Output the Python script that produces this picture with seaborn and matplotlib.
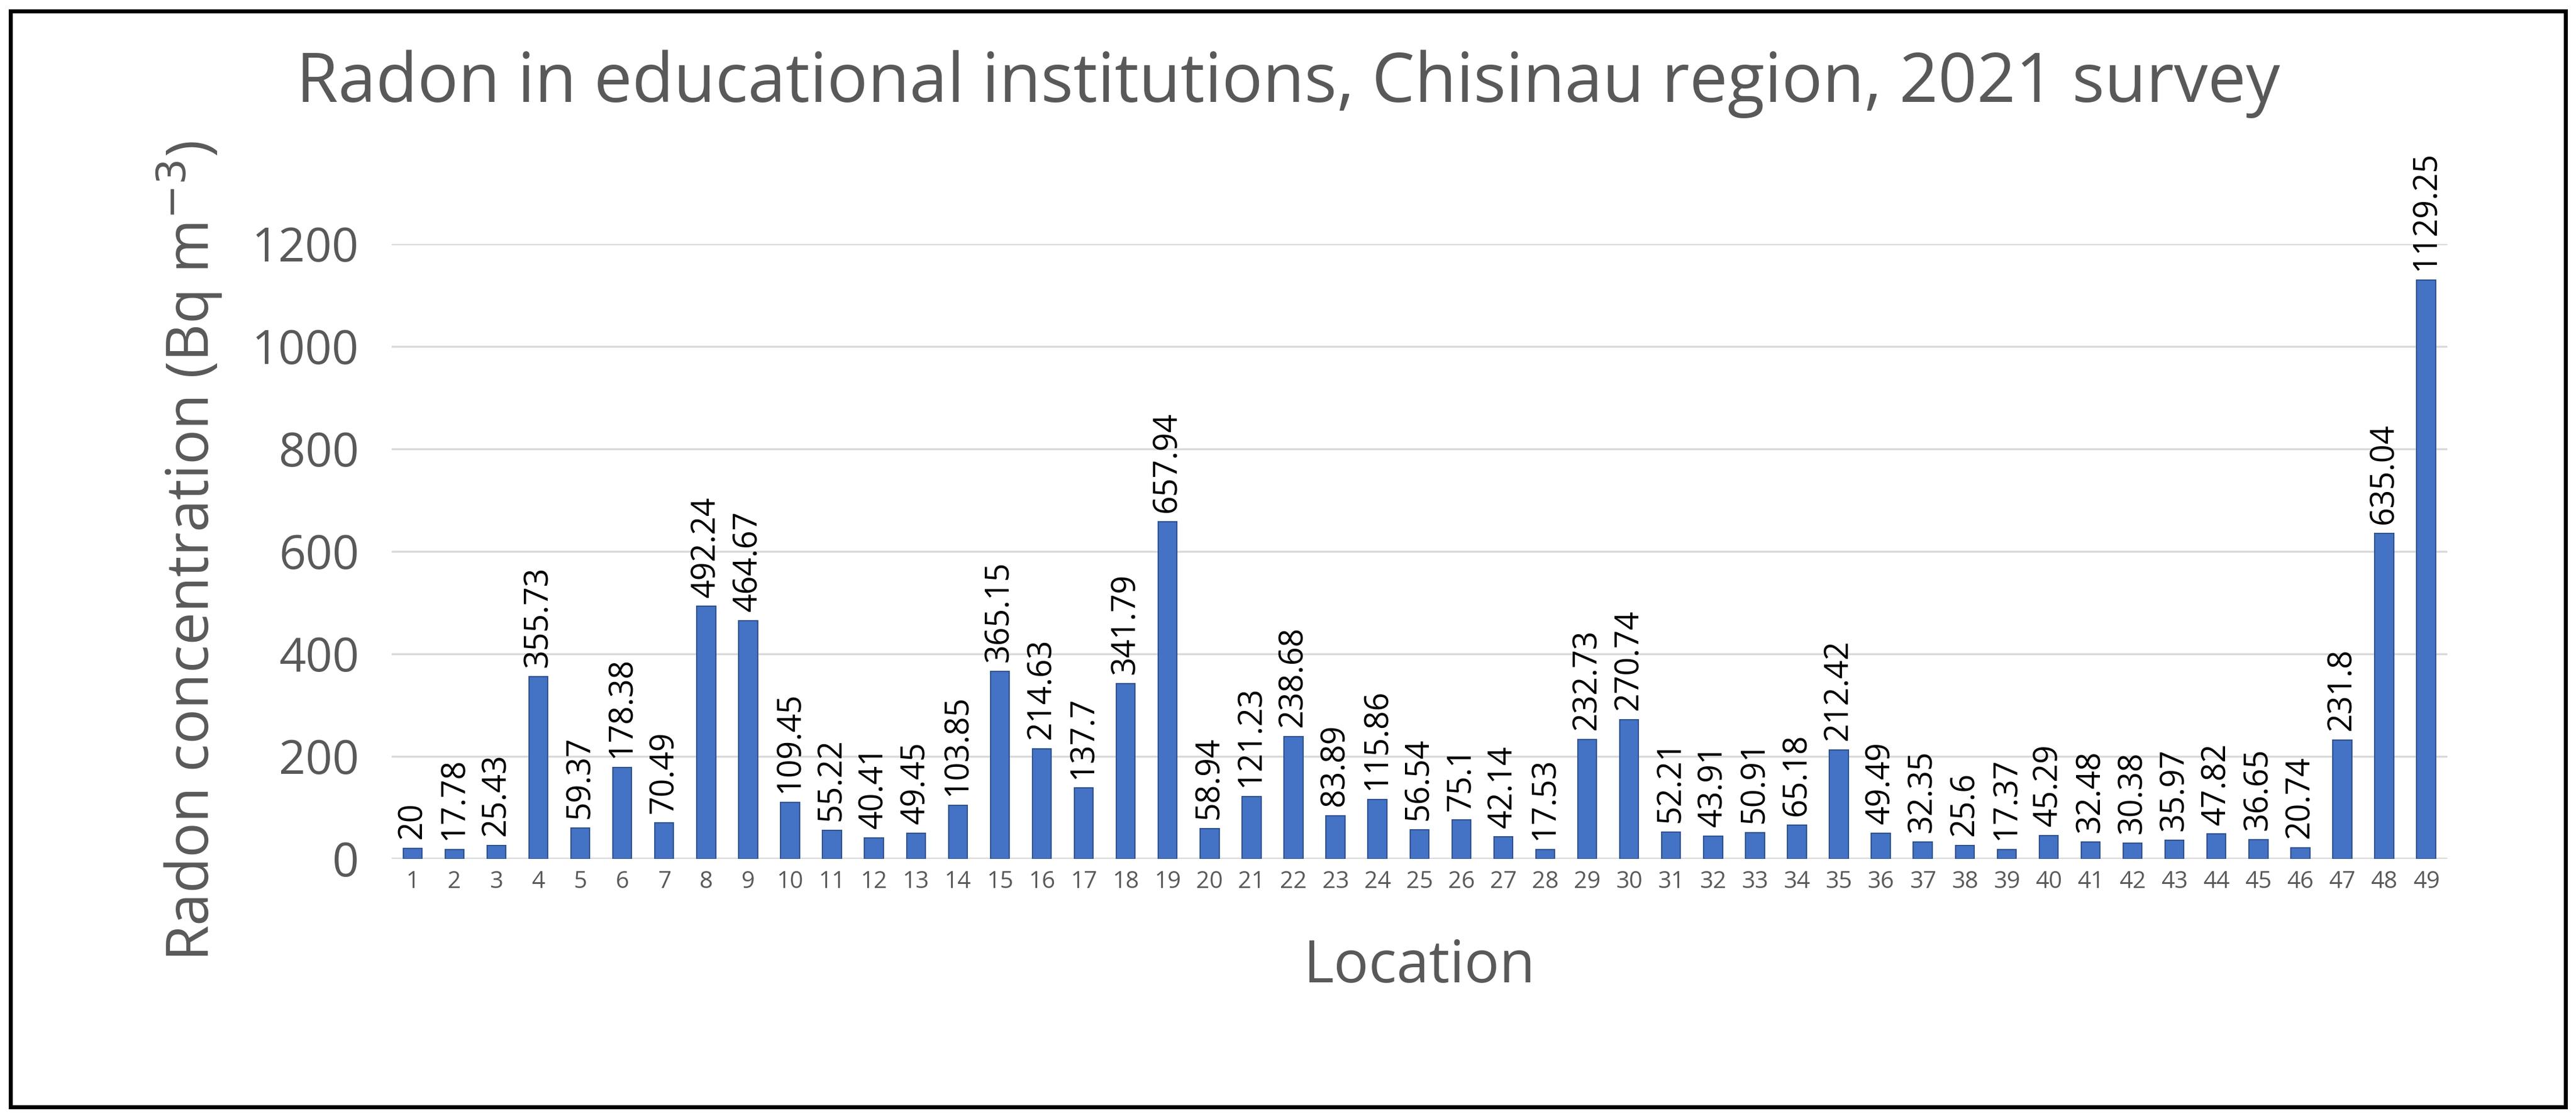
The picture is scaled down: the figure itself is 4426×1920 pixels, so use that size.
import matplotlib
matplotlib.use("Agg")
import matplotlib.pyplot as plt
import matplotlib.patches as patches
import seaborn as sns
import pandas as pd

# data
locations = [str(i) for i in range(1, 50)]
radon = [20, 17.78, 25.43, 355.73, 59.37, 178.38, 70.49, 492.24, 464.67, 109.45,
         55.22, 40.41, 49.45, 103.85, 365.15, 214.63, 137.7, 341.79, 657.94, 58.94,
         121.23, 238.68, 83.89, 115.86, 56.54, 75.1, 42.14, 17.53, 232.73, 270.74,
         52.21, 43.91, 50.91, 65.18, 212.42, 49.49, 32.35, 25.6, 17.37, 45.29,
         32.48, 30.38, 35.97, 47.82, 36.65, 20.74, 231.8, 635.04, 1129.25]
value_labels = ["20", "17.78", "25.43", "355.73", "59.37", "178.38", "70.49", "492.24", "464.67", "109.45",
                "55.22", "40.41", "49.45", "103.85", "365.15", "214.63", "137.7", "341.79", "657.94", "58.94",
                "121.23", "238.68", "83.89", "115.86", "56.54", "75.1", "42.14", "17.53", "232.73", "270.74",
                "52.21", "43.91", "50.91", "65.18", "212.42", "49.49", "32.35", "25.6", "17.37", "45.29",
                "32.48", "30.38", "35.97", "47.82", "36.65", "20.74", "231.8", "635.04", "1129.25"]

df = pd.DataFrame({"Location": locations, "Radon": radon})
TXT = "#595959"

sns.set_theme(style="white")
plt.rcParams["font.family"] = ["Open Sans", "DejaVu Sans"]

fig = plt.figure(figsize=(44.26, 19.2), dpi=100)
ax = fig.add_axes([0.152, 0.232, 0.798, 0.55])

sns.barplot(data=df, x="Location", y="Radon", color="#4472C4", saturation=1, width=0.45,
            edgecolor="#2F528F", linewidth=1.5, ax=ax, zorder=3)

for i, (v, lab) in enumerate(zip(radon, value_labels)):
    ax.text(i, v + 18, lab, rotation=90, ha="center", va="bottom",
            fontsize=40, color="black", clip_on=False)

ax.set_ylim(0, 1200)
ax.set_yticks(range(0, 1201, 200))
ax.yaxis.grid(True, color="#D9D9D9", linewidth=2.5, zorder=0)
ax.tick_params(axis="y", labelsize=58, labelcolor=TXT, length=0, pad=40)
ax.tick_params(axis="x", labelsize=29, labelcolor=TXT, length=0, pad=14)
for s in ax.spines.values():
    s.set_visible(False)
ax.axhline(0, color="#D9D9D9", linewidth=3, zorder=2)

ax.set_xlabel("Location", fontsize=72, color=TXT, labelpad=55)
ax.set_ylabel("Radon concentration (Bq m$^{-3}$)", fontsize=72, color=TXT, labelpad=35)
fig.text(0.5, 0.925, "Radon in educational institutions, Chisinau region, 2021 survey",
         ha="center", va="center", fontsize=84, color=TXT)

fig.patches.append(patches.Rectangle((0.004, 0.01), 0.992, 0.98, transform=fig.transFigure,
                                     fill=False, edgecolor="black", linewidth=5))

fig.savefig("out.png", dpi=100)
